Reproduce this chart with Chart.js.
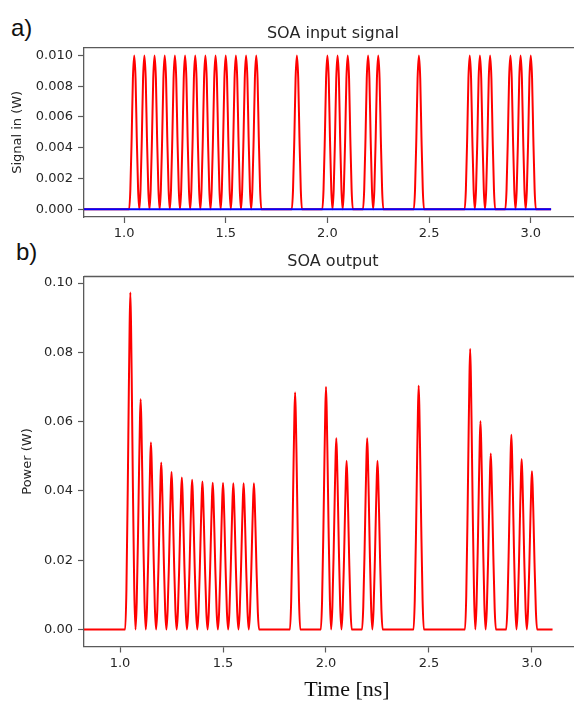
<!DOCTYPE html>
<html>
<head>
<meta charset="utf-8">
<script src="https://cdn.jsdelivr.net/npm/chart.js@4.4.1/dist/chart.umd.min.js"></script>
<style>
  html, body { margin: 0; padding: 0; overflow: hidden; background: #fff; }
  body { position: relative; width: 574px; height: 704px; }
  canvas { position: absolute; left: 0; }
  #inChart { top: 0; }
  #outChart { top: 242px; }
  .tag {
    position: absolute;
    font-family: "Liberation Sans", Arial, sans-serif;
    font-size: 24px;
    line-height: 24px;
    color: #111;
  }
  #xTitle {
    position: absolute;
    left: 297px;
    width: 100px;
    top: 676px;
    text-align: center;
    white-space: nowrap;
    font-family: "Liberation Serif", "Times New Roman", serif;
    font-size: 22px;
    line-height: 26px;
    color: #111;
  }
</style>
</head>
<body>
<div class="tag" style="left:11px; top:16px;">a)</div>
<div class="tag" style="left:16px; top:240px;">b)</div>
<canvas id="inChart" width="590" height="242"></canvas>
<canvas id="outChart" width="590" height="462"></canvas>
<div id="xTitle">Time [ns]</div>

<script>
// ===== Dados =====
// bit slots (ns) where a pulse goes into the SOA
const pulseCentres = [
  1.05, 1.10, 1.15, 1.20, 1.25, 1.30, 1.35, 1.40, 1.45, 1.50, 1.55, 1.60, 1.65,
  1.85, 2.00, 2.05, 2.10, 2.20, 2.25, 2.45,
  2.70, 2.75, 2.80, 2.90, 2.95, 3.00
];
// input peak power (W), every pulse the same
const inputPeaks = [
  0.010, 0.010, 0.010, 0.010, 0.010, 0.010, 0.010, 0.010, 0.010, 0.010, 0.010, 0.010, 0.010,
  0.010, 0.010, 0.010, 0.010, 0.010, 0.010, 0.010,
  0.010, 0.010, 0.010, 0.010, 0.010, 0.010
];
// output peak power (W) after the amplifier
const outputPeaks = [
  0.0973, 0.0665, 0.0540, 0.0482, 0.0455, 0.0439, 0.0432, 0.0427, 0.0424, 0.0423, 0.0422, 0.0422, 0.0422,
  0.0684, 0.0700, 0.0552, 0.0487, 0.0552, 0.0487, 0.0704,
  0.0810, 0.0601, 0.0508, 0.0562, 0.0492, 0.0457
];
// input pulse: time offsets (ns) and relative height
const inPulseOffsets = [-0.025, -0.019, -0.0125, -0.0065, 0, 0.0065, 0.0125, 0.019, 0.025];
const inPulseShape   = [0, 0.13, 0.47, 0.85, 1, 0.85, 0.47, 0.13, 0];
// amplified pulse comes out with a sharper tip
const outPulseOffsets = [-0.025, -0.019, -0.0125, -0.0075, -0.0035, 0, 0.0035, 0.0075, 0.0125, 0.019, 0.025];
const outPulseShape   = [0, 0.12, 0.42, 0.7, 0.9, 1, 0.9, 0.7, 0.42, 0.12, 0];
// zero-level reference line
const zeroLine = [0, 0];
const traceSpan = [0.8, 3.1];

const xTicks = [1.0, 1.5, 2.0, 2.5, 3.0];
const inYTicks = [0, 0.002, 0.004, 0.006, 0.008, 0.010];
const outYTicks = [0, 0.02, 0.04, 0.06, 0.08, 0.10];

// ===== Helpers =====
const TXT = '#262626';
const SPINE = '#5a5a5a';
const SANS = "'DejaVu Sans', sans-serif";

function pulseTrain(peaks, offsets, shape) {
  const pts = [{ x: traceSpan[0], y: 0 }];
  pulseCentres.forEach((c, i) => {
    offsets.forEach((dx, k) => {
      const x = +(c + dx).toFixed(4);
      if (x <= pts[pts.length - 1].x) return;
      pts.push({ x, y: peaks[i] * shape[k] });
    });
  });
  pts.push({ x: traceSpan[1], y: 0 });
  return pts;
}

// top frame line (the axes only draw left and bottom)
const topSpine = {
  id: 'topSpine',
  afterDraw(chart) {
    const { ctx, chartArea: a } = chart;
    ctx.save();
    ctx.strokeStyle = SPINE;
    ctx.lineWidth = 1.3;
    ctx.beginPath();
    ctx.moveTo(a.left, a.top);
    ctx.lineTo(a.right, a.top);
    ctx.stroke();
    ctx.restore();
  }
};

function axisX(min, max, h) {
  return {
    type: 'linear',
    min, max,
    afterBuildTicks: s => { s.ticks = xTicks.map(v => ({ value: v })); },
    afterFit: s => { s.height = h; },
    ticks: {
      callback: v => v.toFixed(1),
      color: TXT,
      font: { family: SANS, size: 13 },
      padding: 3,
      maxRotation: 0
    },
    grid: { drawOnChartArea: false, tickLength: 6, color: SPINE, tickWidth: 1.2 },
    border: { color: SPINE, width: 1.3 }
  };
}

function axisY(min, max, ticks, digits, title, titlePad) {
  return {
    type: 'linear',
    min, max,
    afterBuildTicks: s => { s.ticks = ticks.map(v => ({ value: v })); },
    afterFit: s => { s.width = 84; },
    ticks: {
      callback: v => v.toFixed(digits),
      color: TXT,
      font: { family: SANS, size: 13 },
      padding: 5
    },
    grid: { drawOnChartArea: false, tickLength: 6, color: SPINE, tickWidth: 1.2 },
    border: { color: SPINE, width: 1.3 },
    title: {
      display: true,
      text: title,
      color: TXT,
      font: { family: SANS, size: 13 },
      padding: { top: titlePad, bottom: 0 }
    }
  };
}

function baseOptions(title, titlePad, scales) {
  return {
    responsive: false,
    animation: false,
    layout: { padding: { left: 0, right: 8, top: 0, bottom: 0 } },
    plugins: {
      legend: { display: false },
      tooltip: { enabled: false },
      title: {
        display: true,
        text: title,
        fullSize: false,
        color: TXT,
        font: { family: SANS, size: 16, weight: 'normal' },
        padding: titlePad
      }
    },
    scales
  };
}

// ===== a) sinal de entrada =====
new Chart(document.getElementById('inChart'), {
  type: 'line',
  data: {
    datasets: [
      {
        data: traceSpan.map((x, i) => ({ x, y: zeroLine[i] })),
        borderColor: '#0000ff',
        borderWidth: 2,
        pointRadius: 0
      },
      {
        data: pulseTrain(inputPeaks, inPulseOffsets, inPulseShape),
        borderColor: '#ff0000',
        borderWidth: 2,
        pointRadius: 0,
        cubicInterpolationMode: 'monotone'
      }
    ]
  },
  options: baseOptions('SOA input signal', { top: 24, bottom: 4.5 }, {
    x: axisX(0.803, 3.252, 25),
    y: axisY(-0.0005, 0.0105, inYTicks, 3, 'Signal in (W)', 10)
  }),
  plugins: [topSpine]
});

// ===== b) saída do SOA =====
new Chart(document.getElementById('outChart'), {
  type: 'line',
  data: {
    datasets: [
      {
        data: pulseTrain(outputPeaks, outPulseOffsets, outPulseShape),
        borderColor: '#ff0000',
        borderWidth: 2,
        pointRadius: 0,
        cubicInterpolationMode: 'monotone'
      }
    ]
  },
  options: baseOptions('SOA output', { top: 10, bottom: 5.3 }, {
    x: axisX(0.825, 3.243, 57.5),
    y: axisY(-0.0049, 0.1019, outYTicks, 2, 'Power (W)', 20)
  }),
  plugins: [topSpine]
});
</script>
</body>
</html>
